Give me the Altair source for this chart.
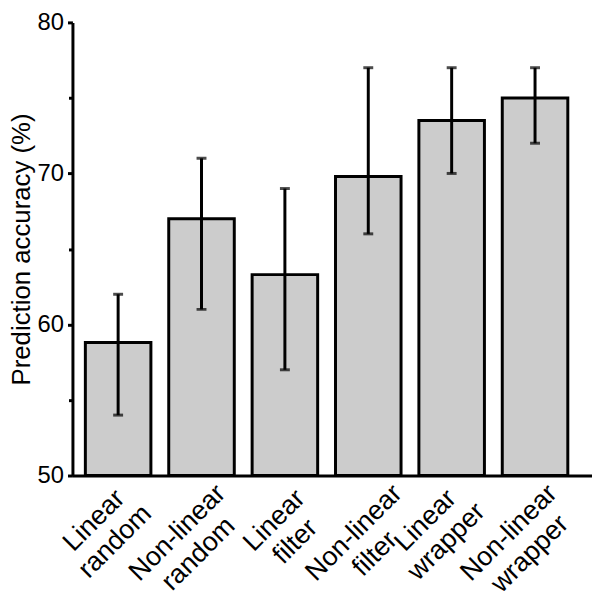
import altair as alt
import pandas as pd

line1 = ["Linear", "Non-linear", "Linear", "Non-linear", "Linear", "Non-linear"]
line2 = ["random", "random", "filter", "filter", "wrapper", "wrapper"]
accuracy = [58.8, 67.0, 63.3, 69.8, 73.5, 75.0]
err_low = [54, 61, 57, 66, 70, 72]
err_high = [62, 71, 69, 77, 77, 77]
y_ticks = [50, 55, 60, 65, 70, 75, 80]
# position of each rotated two-line tick label relative to its tick (px)
label_dx = [-24.2, -24.2, -10.6, -14.3, -26.3, -26.3]
label_dy = [45.0, 57.5, 45.0, 57.5, 45.0, 57.5]

methods = [a + " " + b for a, b in zip(line1, line2)]
df = pd.DataFrame({"method": methods, "acc": accuracy, "lo": err_low, "hi": err_high})

FONT = "Liberation Sans"

offset_cond = {
    "condition": [{"test": "datum.value == '%s'" % m, "value": v}
                  for m, v in zip(methods, label_dx)],
    "value": 0,
}
padding_cond = {
    "condition": [{"test": "datum.value == '%s'" % m, "value": v}
                  for m, v in zip(methods, label_dy)],
    "value": 50,
}

x_enc = alt.X(
    "method:N", sort=None, title=None,
    scale=alt.Scale(paddingInner=0.214, paddingOuter=0.2225, align=0.348),
    axis=alt.Axis(
        labelAngle=-45, labelAlign="center", labelBaseline="middle",
        labelExpr="split(datum.label, ' ')", labelFontSize=27, labelFont=FONT,
        labelColor="black", labelPadding=padding_cond, labelLineHeight=30,
        labelOffset=offset_cond, labelOverlap=False, labelBound=False,
        ticks=False, domainWidth=3, domainColor="black", labelLimit=300,
    ),
)

y_scale = alt.Scale(domain=[50, 80], zero=False, nice=False)
y_axis = alt.Axis(
    values=y_ticks, grid=False,
    labelExpr="datum.value % 10 == 0 ? datum.label : ''",
    labelFontSize=24, labelFont=FONT, labelColor="black", labelPadding=4,
    tickSize={"condition": {"test": "datum.value % 10 == 0", "value": 5}, "value": 4},
    tickWidth=3, tickColor="black", domainWidth=3, domainColor="black",
    title="Prediction accuracy (%)", titleFontSize=26, titleFont=FONT,
    titleFontWeight="normal", titleColor="black", titlePadding=3,
)

bars = alt.Chart(df).mark_bar(fill="#cccccc", stroke="black", strokeWidth=3).encode(
    x=x_enc,
    y=alt.Y("acc:Q", scale=y_scale, axis=y_axis),
    y2=alt.datum(50),
)

rules = alt.Chart(df).mark_rule(color="black", strokeWidth=3).encode(
    x=alt.X("method:N", sort=None),
    y=alt.Y("lo:Q", scale=y_scale),
    y2="hi:Q",
)

cap_lo = alt.Chart(df).mark_tick(color="black", size=10, thickness=3).encode(
    x=alt.X("method:N", sort=None),
    y=alt.Y("lo:Q", scale=y_scale),
)
cap_hi = alt.Chart(df).mark_tick(color="black", size=10, thickness=3).encode(
    x=alt.X("method:N", sort=None),
    y=alt.Y("hi:Q", scale=y_scale),
)

chart = alt.layer(bars, rules, cap_lo, cap_hi).properties(
    width=524, height=457,
    background="white",
    autosize=alt.AutoSizeParams(type="none"),
    padding={"left": 65, "top": 12, "right": 0, "bottom": 120},
).configure_view(stroke=None).configure_axis(grid=False)

chart.save("out.html", embed_options={"renderer": "svg", "actions": False})
